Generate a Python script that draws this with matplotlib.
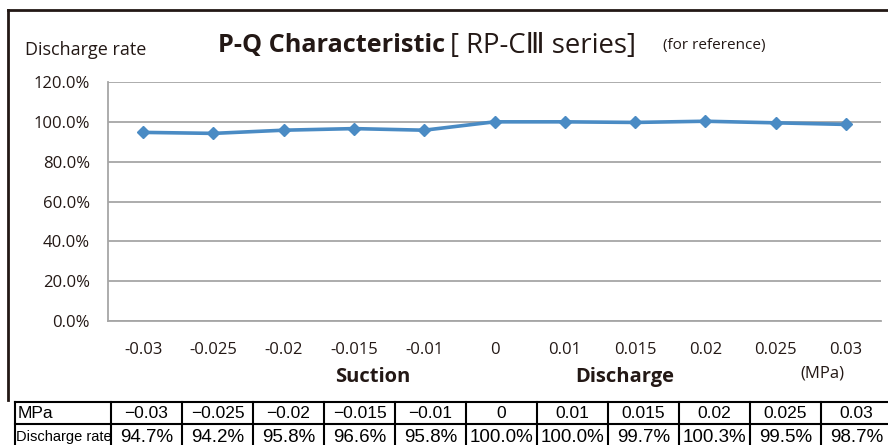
import matplotlib
matplotlib.use("Agg")
import matplotlib.pyplot as plt
from matplotlib.lines import Line2D
from matplotlib.ticker import FuncFormatter

pressure_labels = ["-0.03", "-0.025", "-0.02", "-0.015", "-0.01", "0", "0.01", "0.015", "0.02", "0.025", "0.03"]
table_labels = ["\u22120.03", "\u22120.025", "\u22120.02", "\u22120.015", "\u22120.01", "0", "0.01", "0.015", "0.02", "0.025", "0.03"]
discharge_rate = [94.7, 94.2, 95.8, 96.6, 95.8, 100.0, 100.0, 99.7, 100.3, 99.5, 98.7]
yticks = [0, 20, 40, 60, 80, 100, 120]

W, H = 888, 445
fig = plt.figure(figsize=(W / 100, H / 100), dpi=100)
fig.patch.set_facecolor("white")

def fx(px):
    return px / W

def fy(py):
    return 1 - py / H

txtc = "#231815"
font = ["Open Sans", "DejaVu Sans"]

ax = fig.add_axes([fx(108), fy(321), fx(881) - fx(108), fy(82) - fy(321)])
x = list(range(len(discharge_rate)))
ax.plot(x, discharge_rate, color="#4a8bc4", lw=2.6, marker="D", ms=6.5,
        markerfacecolor="#4a8bc4", markeredgecolor="#4a8bc4", zorder=3)
ax.set_xlim(-0.5, len(x) - 0.5)
ax.set_ylim(0, 120)
ax.set_yticks(yticks)
ax.yaxis.set_major_formatter(FuncFormatter(lambda v, p: f"{v:.1f}%"))
ax.set_xticks(x)
ax.set_xticklabels(pressure_labels)
ax.grid(axis="y", color="#a6a6a6", lw=1.3)
ax.set_axisbelow(True)
for s in ["top", "right"]:
    ax.spines[s].set_visible(False)
for s in ["left", "bottom"]:
    ax.spines[s].set_color("#a6a6a6")
    ax.spines[s].set_linewidth(1.3)
ax.tick_params(length=0, labelsize=12, colors=txtc)
ax.tick_params(axis="y", pad=13)
ax.tick_params(axis="x", pad=15)
for lab in ax.get_xticklabels() + ax.get_yticklabels():
    lab.set_family(font)

# Frame
fig.add_artist(Line2D([fx(8), 1.0], [fy(9.5), fy(9.5)], color=txtc, lw=2.0))
fig.add_artist(Line2D([fx(8), fx(8)], [fy(9.5), fy(400)], color=txtc, lw=2.0))

# Titles
fig.text(fx(25), fy(50), "Discharge rate", fontsize=13, color=txtc, family=font, va="center", ha="left")
fig.text(fx(218), fy(46), "P-Q Characteristic", fontsize=18.2, fontweight="bold", color=txtc, family=font, va="center", ha="left")
fig.text(fx(450), fy(46), "[ RP-C\u2162 series]", fontsize=19.8, color=txtc, family=font, va="center", ha="left")
fig.text(fx(663), fy(46), "(for reference)", fontsize=11, color=txtc, family=font, va="center", ha="left")

fig.text(fx(373), fy(377), "Suction", fontsize=14.5, fontweight="bold", color=txtc, family=font, va="center", ha="center")
fig.text(fx(625), fy(377), "Discharge", fontsize=14.5, fontweight="bold", color=txtc, family=font, va="center", ha="center")
fig.text(fx(822), fy(373), "(MPa)", fontsize=12, color=txtc, family=font, va="center", ha="center")

# Table
tfont = ["Liberation Sans", "DejaVu Sans"]
col_x = [15, 111] + [111 + 71 * (i + 1) for i in range(len(table_labels))]
row_y = [402, 424, 446]
for cx in col_x:
    fig.add_artist(Line2D([fx(cx), fx(cx)], [fy(row_y[0]), fy(row_y[-1])], color="black", lw=1.5))
for ry in row_y:
    fig.add_artist(Line2D([fx(col_x[0]), fx(col_x[-1])], [fy(ry), fy(ry)], color="black", lw=1.5))

fig.text(fx(18), fy(414), "MPa", fontsize=12.5, color="black", family=tfont, va="center", ha="left")
fig.text(fx(16), fy(437), "Discharge rate", fontsize=10.5, color="black", family=tfont, va="center", ha="left")
for i, (lab, val) in enumerate(zip(table_labels, discharge_rate)):
    cx = (col_x[i + 1] + col_x[i + 2]) / 2
    fig.text(fx(cx), fy(414), lab, fontsize=12.5, color="black", family=tfont, va="center", ha="center")
    fig.text(fx(cx), fy(437), f"{val:.1f}%", fontsize=13.5, color="black", family=tfont, va="center", ha="center")

fig.savefig("out.png", dpi=100)
